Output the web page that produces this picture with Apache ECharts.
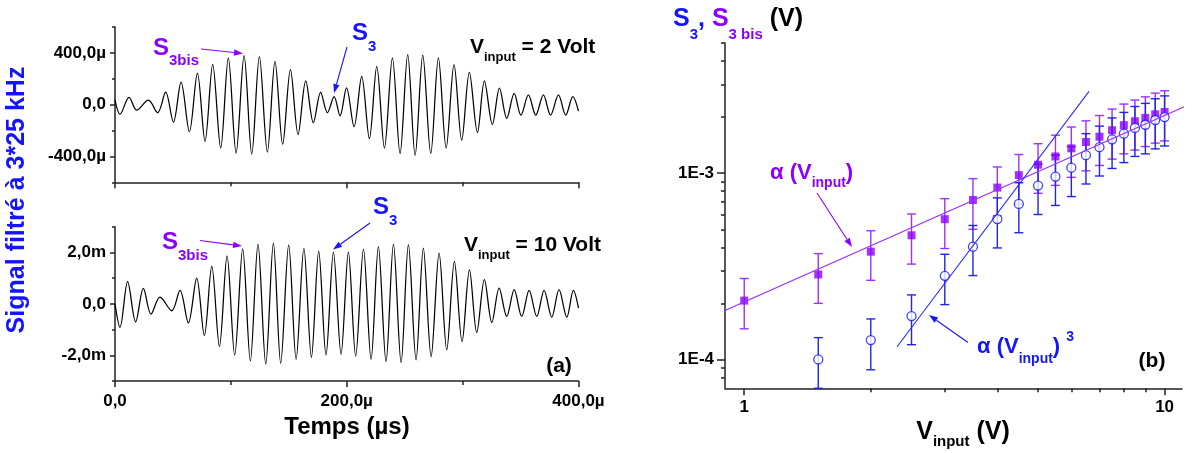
<!DOCTYPE html>
<html><head><meta charset="utf-8">
<script src="https://cdn.jsdelivr.net/npm/echarts@6/dist/echarts.min.js"></script>
<style>html,body{margin:0;padding:0;background:#fff}#c{width:1192px;height:453px}</style>
</head><body><div id="c"></div>
<script>
// ===== DATA =====
// Panel (a) top, V_input = 2 V : extrema of filtered signal (time in µs, value in µV)
const topTime = [0,4.3,12.1,18.7,28.8,36.8,43.7,50.4,57.0,64.2,71.1,77.7,84.3,91.2,97.8,104.5,111.4,118.0,124.6,131.5,138.1,144.7,151.4,158.0,164.6,171.2,177.5,183.3,189.1,194.2,199.8,206.3,212.9,219.5,225.9,232.5,239.4,246.0,252.6,259.0,265.6,272.5,279.1,285.8,292.6,299.2,305.8,312.8,318.8,325.7,331.8,338.1,344.5,350.3,356.8,363.1,369.7,375.9,382.7,389.0,395.1,400];
const topValue = [36,-75,57,-42,34,-62,96,-135,174,-210,244,-283,312,-335,361,-374,379,-382,371,-366,335,-306,270,-231,184,-140,94,-62,62,-86,130,-171,218,-262,296,-335,361,-379,387,-392,382,-379,361,-335,309,-275,249,-216,184,-153,127,-106,88,-81,75,-81,75,-81,75,-81,62,-49];
// Panel (a) bottom, V_input = 10 V (time in µs, value in mV)
const botTime = [0,4.3,10.9,17.8,24.5,31.1,38.8,49.0,56.1,63.3,70.5,77.1,83.5,90.1,96.7,103.3,110.2,116.8,123.4,130.1,136.7,143.0,149.9,156.3,163.0,169.5,175.8,182.1,188.5,195.1,201.4,207.7,214.4,221.0,227.3,233.9,240.3,246.9,253.2,259.8,266.1,272.8,279.7,286.3,292.9,299.5,305.9,312.2,318.8,325.2,331.5,338.1,344.5,351.0,357.4,364.0,370.3,376.9,383.2,389.9,395.6,400];
const botValue = [0,-0.91,0.86,-0.70,0.60,-0.40,0.26,-0.27,0.52,-0.74,1.00,-1.23,1.47,-1.66,1.87,-1.99,2.14,-2.22,2.32,-2.34,2.36,-2.31,2.29,-2.16,2.16,-2.08,2.05,-1.99,2.00,-1.96,2.01,-2.03,2.13,-2.16,2.23,-2.25,2.32,-2.29,2.30,-2.18,2.17,-2.05,1.97,-1.79,1.65,-1.47,1.32,-1.12,0.94,-0.73,0.61,-0.49,0.55,-0.49,0.52,-0.49,0.52,-0.52,0.55,-0.52,0.52,-0.17];
// Panel (a) tick labels
const timeTicks = [0,200,400];
const timeTickLabels = ['0,0','200,0µ','400,0µ'];
const topYTicks = [-400,0,400];
const topYTickLabels = ['-400,0µ','0,0','400,0µ'];
const botYTicks = [-2,0,2];
const botYTickLabels = ['-2,0m','0,0','2,0m'];

// Panel (b): S3bis (purple squares) vs V_input
const s3bisV = [1,1.5,2,2.5,3,3.5,4,4.5,5,5.5,6,6.5,7,7.5,8,8.5,9,9.5,10];
const s3bis = [2.07e-4,2.86e-4,3.79e-4,4.64e-4,5.66e-4,7.18e-4,8.37e-4,9.76e-4,1.11e-3,1.23e-3,1.36e-3,1.47e-3,1.57e-3,1.70e-3,1.81e-3,1.90e-3,1.98e-3,2.07e-3,2.13e-3];
const s3bisLow = [1.46e-4,2.0e-4,2.66e-4,3.25e-4,3.94e-4,5.0e-4,5.9e-4,6.8e-4,7.8e-4,8.6e-4,9.5e-4,1.03e-3,1.10e-3,1.19e-3,1.27e-3,1.33e-3,1.39e-3,1.45e-3,1.49e-3];
const s3bisHigh = [2.72e-4,3.70e-4,4.91e-4,6.04e-4,7.30e-4,9.35e-4,1.08e-3,1.26e-3,1.44e-3,1.60e-3,1.77e-3,1.91e-3,2.04e-3,2.21e-3,2.35e-3,2.47e-3,2.57e-3,2.69e-3,2.77e-3];
// S3 (blue open circles)
const s3V = [1.5,2,2.5,3,3.5,4,4.5,5,5.5,6,6.5,7,7.5,8,8.5,9,9.5,10];
const s3 = [1.0e-4,1.27e-4,1.71e-4,2.81e-4,4.03e-4,5.67e-4,6.84e-4,8.58e-4,9.59e-4,1.07e-3,1.25e-3,1.38e-3,1.52e-3,1.63e-3,1.75e-3,1.82e-3,1.93e-3,2.0e-3];
const s3Low = [7.0e-5,8.8e-5,1.2e-4,1.97e-4,2.82e-4,3.97e-4,4.79e-4,6.0e-4,6.71e-4,7.49e-4,8.75e-4,9.66e-4,1.06e-3,1.14e-3,1.23e-3,1.27e-3,1.35e-3,1.40e-3];
const s3High = [1.31e-4,1.65e-4,2.22e-4,3.67e-4,5.24e-4,7.37e-4,8.89e-4,1.12e-3,1.25e-3,1.39e-3,1.63e-3,1.79e-3,1.98e-3,2.12e-3,2.28e-3,2.37e-3,2.51e-3,2.60e-3];
// Fit lines (end points)
const fitLinV = [0.81, 11.5];
const fitLin = [1.65e-4, 2.35e-3];
const fitCubV = [2.31, 6.61];
const fitCub = [1.17e-4, 2.75e-3];
// Panel (b) ticks
const vMajor = [1,10];
const vMajorLabels = ['1','10'];
const vMinor = [2,3,4,5,6,7,8,9];
const sMajor = [1e-4,1e-3];
const sMajorLabels = ['1E-4','1E-3'];
const sMinor = [8e-5,9e-5,2e-4,3e-4,4e-4,5e-4,6e-4,7e-4,8e-4,9e-4,2e-3,3e-3,4e-3,5e-3];
// Panel (a) major tick positions (longer ticks)
const topYMajor = [-400,0,400];
const botYMajor = [-2,0,2];
const timeMajor = [0,200,400];

// ===== STYLE =====
const FF = "'Liberation Sans', Arial, sans-serif";
const PURPLE = '#8c00ff', PURPLE_L = '#9a33ff', BLUE = '#1414ff', BLUE_L = '#2424e6', BLACK = '#000';
const AX = {color:'#222', width:1.5};
const zip = (a,b) => a.map((v,i)=>[v,b[i]]);
function lblFrom(vals, labels, log){
  return function(v){
    for (let i=0;i<vals.length;i++){
      const ok = log ? Math.abs(Math.log10(v)-Math.log10(vals[i]))<0.01 : Math.abs(v-vals[i])<1e-9;
      if (ok) return labels[i];
    }
    return '';
  };
}
const tickLbl = {fontSize:17, fontWeight:'bold', color:BLACK, fontFamily:FF};

function errRender(color){
  return function(params, api){
    const x = api.value(0), lo = api.value(1), hi = api.value(2);
    const a = api.coord([x, lo]), b = api.coord([x, hi]);
    const hw = 4.5, st = {stroke:color, lineWidth:1.4};
    return {type:'group', children:[
      {type:'line', shape:{x1:a[0],y1:a[1],x2:b[0],y2:b[1]}, style:st},
      {type:'line', shape:{x1:b[0]-hw,y1:b[1],x2:b[0]+hw,y2:b[1]}, style:st},
      {type:'line', shape:{x1:a[0]-hw,y1:a[1],x2:a[0]+hw,y2:a[1]}, style:st}
    ]};
  };
}

// rich text helper: tokens [text, kind('m'|'s'|'u'), color]
function rich(x, yc, F, f, D, tokens, align, U){
  U = U || 0; const P = U ? 8 : 0;
  const r = {}; let txt = '';
  tokens.forEach((t,i)=>{
    const k = 't'+i;
    let st;
    if (t[1]==='m') st = {fontSize:F, lineHeight:F, padding:[P,0,0,0]};
    else if (t[1]==='s') st = {fontSize:f, lineHeight:f, padding:[P + F/2 + D - f/2,0,0,0]};
    else st = {fontSize:f, lineHeight:f, padding:[Math.max(0,P + F/2 - U - f/2),0,0,0]};
    st.fontWeight = 'bold'; st.fontFamily = FF; st.fill = t[2]; st.verticalAlign = 'top';
    r[k] = st; txt += '{'+k+'|'+t[0]+'}';
  });
  return {type:'text', x:x, y:yc - P - F/2, z:100,
    style:{text:txt, rich:r, align:align||'left', verticalAlign:'top', fontFamily:FF, fontWeight:'bold'}};
}
function plain(x, y, text, size, color, extra){
  return Object.assign({type:'text', x:x, y:y, z:100,
    style:{text:text, fontSize:size, fontWeight:'bold', fontFamily:FF, fill:color, align:'center', verticalAlign:'middle'}}, extra||{});
}
function arrow(x1,y1,x2,y2,color){
  const ang = Math.atan2(y2-y1, x2-x1), L = 9, W = 3.2;
  const bx = x2 - L*Math.cos(ang), by = y2 - L*Math.sin(ang);
  const px = -Math.sin(ang)*W, py = Math.cos(ang)*W;
  return [
    {type:'line', z:100, shape:{x1:x1,y1:y1,x2:bx,y2:by}, style:{stroke:color, lineWidth:1.1}},
    {type:'polygon', z:100, shape:{points:[[x2,y2],[bx+px,by+py],[bx-px,by-py]]}, style:{fill:color}}
  ];
}

const graphics = [
  plain(17, 200, 'Signal filtré à 3*25 kHz', 25, BLUE, {rotation: Math.PI/2}),
  plain(347, 427, 'Temps (µs)', 24, BLACK),
  plain(559, 366, '(a)', 21, BLACK),
  plain(1152, 361, '(b)', 21, BLACK),
  rich(153, 48.5, 24, 15, 12.5, [['S','m',PURPLE],['3bis','s',PURPLE]]),
  rich(352, 33.5, 24, 15, 13, [['S','m',BLUE],['3','s',BLUE]]),
  rich(470, 47.5, 21, 13, 10, [['V','m',BLACK],['input','s',BLACK],[' = 2 Volt','m',BLACK]]),
  rich(162, 242.5, 24, 15, 13.5, [['S','m',PURPLE],['3bis','s',PURPLE]]),
  rich(373, 207.5, 24, 15, 13, [['S','m',BLUE],['3','s',BLUE]]),
  rich(464, 245.5, 21, 13, 10, [['V','m',BLACK],['input','s',BLACK],[' = 10 Volt','m',BLACK]]),
  rich(673, 19, 25, 15, 16, [['S','m',BLUE],['3','s',BLUE],[',','m',BLUE],[' S','m',PURPLE],['3 bis','s',PURPLE],[' (V)','m',BLACK]]),
  rich(770, 173, 22, 14, 10.5, [['α (V','m',PURPLE],['input','s',PURPLE],[')','m',PURPLE]]),
  rich(977, 347, 22, 14, 12, [['α (V','m',BLUE],['input','s',BLUE],[') ','m',BLUE],['3','u',BLUE]], 'left', 10),
  rich(963, 432, 25, 15, 10, [['V','m',BLACK],['input','s',BLACK],[' (V)','m',BLACK]], 'center')
].concat(
  arrow(201,49,243,53.5,PURPLE),
  arrow(347,47,334,93,BLUE),
  arrow(200,240.5,242,246,PURPLE),
  arrow(370,223,333,249.5,BLUE),
  arrow(817,193,852,247,PURPLE),
  arrow(968,342.5,929,315,BLUE)
);

function majorOverlay(axisType, grid, min, max, vals, len, pos){
  return {gridIndex:grid, type:axisType, position:pos, min:min, max:max, axisLine:{show:false, onZero:false},
    axisTick:{customValues:vals, length:len, lineStyle:AX}, axisLabel:{show:false}, splitLine:{show:false}};
}

const chart = echarts.init(document.getElementById('c'), null, {renderer:'canvas'});
chart.setOption({
  animation:false,
  backgroundColor:'#fff',
  textStyle:{fontFamily:FF},
  grid:[
    {left:115, top:27, width:463.5, height:155.3, outerBoundsMode:'none', containLabel:false},
    {left:115, top:226.7, width:463.5, height:154.3, outerBoundsMode:'none', containLabel:false},
    {left:725, top:43, width:457, height:345.3, outerBoundsMode:'none', containLabel:false}
  ],
  xAxis:[
    {gridIndex:0, type:'value', position:'bottom', min:0, max:400, interval:100, axisLine:{onZero:false, lineStyle:AX}, axisTick:{length:4, lineStyle:AX}, axisLabel:{show:false}, splitLine:{show:false}},
    {gridIndex:1, type:'value', position:'bottom', min:0, max:400, interval:100, axisLine:{onZero:false, lineStyle:AX}, axisTick:{length:4, lineStyle:AX},
      axisLabel:Object.assign({customValues:timeTicks, formatter:lblFrom(timeTicks,timeTickLabels), margin:12}, tickLbl), splitLine:{show:false}},
    {gridIndex:2, type:'log', logBase:10, position:'bottom', min:0.9, max:11, axisLine:{onZero:false, lineStyle:AX}, axisTick:{customValues:vMajor, length:7, lineStyle:AX},
      axisLabel:Object.assign({customValues:vMajor, formatter:lblFrom(vMajor,vMajorLabels,true), margin:11}, tickLbl), splitLine:{show:false}, minorTick:{show:false}},
    majorOverlay('log', 2, 0.9, 11, vMinor, 4, 'bottom'),
    majorOverlay('value', 0, 0, 400, timeMajor, 6, 'bottom'),
    majorOverlay('value', 1, 0, 400, timeMajor, 6, 'bottom')
  ],
  yAxis:[
    {gridIndex:0, type:'value', position:'left', min:-600, max:600, interval:200, axisLine:{onZero:false, lineStyle:AX}, axisTick:{length:3, lineStyle:AX},
      axisLabel:Object.assign({customValues:topYTicks, formatter:lblFrom(topYTicks,topYTickLabels), margin:9}, tickLbl), splitLine:{show:false}},
    {gridIndex:1, type:'value', position:'left', min:-3, max:3, interval:1, axisLine:{onZero:false, lineStyle:AX}, axisTick:{length:3, lineStyle:AX},
      axisLabel:Object.assign({customValues:botYTicks, formatter:lblFrom(botYTicks,botYTickLabels), margin:9}, tickLbl), splitLine:{show:false}},
    {gridIndex:2, type:'log', logBase:10, position:'left', min:7e-5, max:5e-3, axisLine:{onZero:false, lineStyle:AX}, axisTick:{customValues:sMajor, length:8, lineStyle:AX},
      axisLabel:Object.assign({customValues:sMajor, formatter:lblFrom(sMajor,sMajorLabels,true), margin:11}, tickLbl), splitLine:{show:false}},
    majorOverlay('log', 2, 7e-5, 5e-3, sMinor, 4, 'left'),
    majorOverlay('value', 0, -600, 600, topYMajor, 5, 'left'),
    majorOverlay('value', 1, -3, 3, botYMajor, 5, 'left')
  ],
  series:[
    {type:'line', xAxisIndex:0, yAxisIndex:0, data:zip(topTime,topValue), smooth:0.33, showSymbol:false, lineStyle:{color:BLACK, width:1.25}},
    {type:'line', xAxisIndex:1, yAxisIndex:1, data:zip(botTime,botValue), smooth:0.33, showSymbol:false, lineStyle:{color:BLACK, width:1.25}},
    {type:'custom', xAxisIndex:2, yAxisIndex:2, renderItem:errRender(PURPLE_L), data:s3bisV.map((v,i)=>[v,s3bisLow[i],s3bisHigh[i]]), encode:{x:0,y:[1,2]}, z:2},
    {type:'custom', xAxisIndex:2, yAxisIndex:2, renderItem:errRender(BLUE_L), data:s3V.map((v,i)=>[v,s3Low[i],s3High[i]]), encode:{x:0,y:[1,2]}, z:3},
    {type:'scatter', xAxisIndex:2, yAxisIndex:2, data:zip(s3bisV,s3bis), symbol:'rect', symbolSize:8, itemStyle:{color:PURPLE}, z:4},
    {type:'scatter', xAxisIndex:2, yAxisIndex:2, data:zip(s3V,s3), symbol:'circle', symbolSize:9, itemStyle:{color:'#fff', borderColor:BLUE, borderWidth:1.3}, z:5},
    {type:'line', xAxisIndex:2, yAxisIndex:2, data:zip(fitLinV,fitLin), clip:false, showSymbol:false, lineStyle:{color:'#9933ff', width:1.1}, z:6},
    {type:'line', xAxisIndex:2, yAxisIndex:2, data:zip(fitCubV,fitCub), clip:false, showSymbol:false, lineStyle:{color:'#2a2aff', width:1.1}, z:6}
  ],
  graphic:graphics
});
</script>
</body></html>
